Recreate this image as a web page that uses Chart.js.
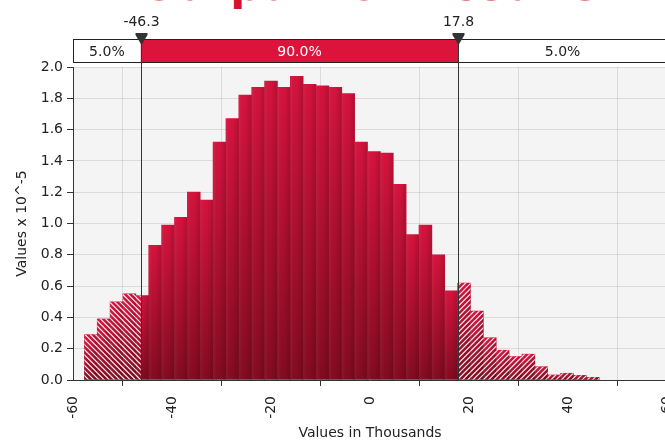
<!DOCTYPE html>
<html><head><meta charset="utf-8">
<script src="https://cdn.jsdelivr.net/npm/chart.js@4.4.1/dist/chart.umd.min.js"></script>
<style>
html,body{margin:0;padding:0;overflow:hidden;background:#fff;width:665px;height:440px}
#wrap{position:relative;width:700px;height:440px}
#title{position:absolute;left:0;top:-37.5px;width:740px;text-align:center;font:bold 44px "DejaVu Sans",sans-serif;color:#d8112d;white-space:nowrap;line-height:44px}
canvas{position:absolute;left:0;top:0}
</style></head>
<body>
<div id="wrap"><div id="title">Output for Results</div><canvas id="c" width="700" height="440"></canvas></div>
<script>
// ---- data ----
const binStart = -57.7;
const binWidth = 2.6;
const values = [0.29,0.39,0.50,0.55,0.54,0.86,0.99,1.04,1.20,1.15,
                1.52,1.67,1.82,1.87,1.91,1.87,1.94,1.89,1.88,1.87,
                1.83,1.52,1.46,1.45,1.25,0.93,0.99,0.80,0.57,0.62,
                0.44,0.27,0.19,0.15,0.165,0.085,0.032,0.043,0.030,0.017];
const markerValues = [-46.3, 17.8];
const markerLabels = ['-46.3', '17.8'];
const bandLabels = ['5.0%', '90.0%', '5.0%'];
const xTickValues = [-60,-40,-20,0,20,40,60];
const yMin = 0, yMax = 2.0, yStep = 0.2;
const xTitle = 'Values in Thousands';
const yTitle = 'Values x 10^-5';

const points = values.map((v,i)=>({x: binStart + binWidth*(i+0.5), y: v}));
const FONT = '"DejaVu Sans", sans-serif';

const bgPlugin = {
  id:'bg',
  beforeDraw(chart){
    const {ctx, chartArea:a} = chart;
    ctx.save(); ctx.fillStyle='#f4f4f4';
    ctx.fillRect(a.left, a.top, a.right-a.left, a.bottom-a.top);
    ctx.restore();
  }
};

const hatchPlugin = {
  id:'hatch',
  afterDatasetsDraw(chart){
    const {ctx, scales:{x}} = chart;
    const m1 = x.getPixelForValue(markerValues[0]);
    const m2 = x.getPixelForValue(markerValues[1]);
    const meta = chart.getDatasetMeta(0);
    const sp = 5.2;
    meta.data.forEach(bar=>{
      const l = bar.x - bar.width/2, r = bar.x + bar.width/2, t = bar.y, b = bar.base;
      ctx.save();
      const g = ctx.createLinearGradient(l,0,r,0);
      g.addColorStop(0,'rgba(255,255,255,0.06)');
      g.addColorStop(0.5,'rgba(0,0,0,0.0)');
      g.addColorStop(1,'rgba(0,0,0,0.16)');
      ctx.fillStyle = g; ctx.fillRect(l,t,r-l,b-t);
      ctx.restore();
      const H = b - t;
      if (l < m1){
        ctx.save(); ctx.beginPath(); ctx.rect(l,t,Math.min(r,m1)-l,H); ctx.clip();
        ctx.strokeStyle='rgba(255,255,255,0.9)'; ctx.lineWidth=1.2; ctx.beginPath();
        const c0 = Math.floor((l - b)/sp)*sp;
        for (let c=c0; c < r - t + sp; c+=sp){ ctx.moveTo(c + t - 2, t - 2); ctx.lineTo(c + b + 2, b + 2); }
        ctx.stroke(); ctx.restore();
      }
      if (r > m2){
        const ll = Math.max(l,m2);
        ctx.save(); ctx.beginPath(); ctx.rect(ll,t,r-ll,H); ctx.clip();
        ctx.strokeStyle='rgba(255,255,255,0.9)'; ctx.lineWidth=1.2; ctx.beginPath();
        const c0 = Math.floor((ll + t)/sp)*sp;
        for (let c=c0; c < r + b + sp; c+=sp){ ctx.moveTo(c - t + 2, t - 2); ctx.lineTo(c - b - 2, b + 2); }
        ctx.stroke(); ctx.restore();
      }
    });
  }
};

const bandPlugin = {
  id:'band',
  afterDraw(chart){
    const {ctx, chartArea:a, scales:{x}} = chart;
    const m1 = x.getPixelForValue(markerValues[0]);
    const m2 = x.getPixelForValue(markerValues[1]);
    const top = 39.5, h = 23;
    ctx.save();
    ctx.fillStyle='#ffffff'; ctx.fillRect(a.left, top, a.right-a.left, h);
    ctx.fillStyle='#dc143c'; ctx.fillRect(m1, top, m2-m1, h);
    ctx.strokeStyle='#222'; ctx.lineWidth=1; ctx.strokeRect(a.left+0.5, top, a.right-a.left, h);
    ctx.font = '14px ' + FONT; ctx.textAlign='center'; ctx.textBaseline='middle';
    ctx.fillStyle='#222';
    ctx.fillText(bandLabels[0], (a.left+m1)/2, top+h/2+1);
    ctx.fillText(bandLabels[2], (m2+a.right)/2, top+h/2+1);
    ctx.fillStyle='#fff';
    ctx.fillText(bandLabels[1], (m1+m2)/2, top+h/2+1);
    [m1,m2].forEach((m,i)=>{
      const px = Math.round(m)+0.5;
      ctx.strokeStyle='#333'; ctx.lineWidth=1;
      ctx.beginPath(); ctx.moveTo(px, 36); ctx.lineTo(px, a.bottom); ctx.stroke();
      ctx.fillStyle='#333';
      ctx.beginPath(); ctx.moveTo(px-6, 33); ctx.lineTo(px+6, 33); ctx.lineTo(px+6,35); ctx.lineTo(px, 45); ctx.lineTo(px-6,35); ctx.closePath(); ctx.fill();
      ctx.fillStyle='#222'; ctx.font='14px '+FONT; ctx.textAlign='center'; ctx.textBaseline='middle';
      ctx.fillText(markerLabels[i], px, 22);
    });
    ctx.restore();
  }
};

new Chart(document.getElementById('c'), {
  type:'bar',
  data:{ datasets:[{
    data: points,
    barPercentage:1, categoryPercentage:1, borderWidth:0,
    backgroundColor:(c)=>{
      const chart=c.chart; const a=chart.chartArea;
      if(!a || c.type!=='data') return '#c8102e';
      const yT = chart.scales.y.getPixelForValue(c.raw.y);
      const yB = chart.scales.y.getPixelForValue(0);
      const g = chart.ctx.createLinearGradient(0,yT,0,yB);
      g.addColorStop(0,'#d6133d'); g.addColorStop(1,'#820b21');
      return g;
    }
  }]},
  options:{
    responsive:false, animation:false,
    layout:{padding:{top:67,right:33,left:0,bottom:0}},
    plugins:{legend:{display:false}, tooltip:{enabled:false}},
    scales:{
      x:{ type:'linear', min:-60, max:60, offset:false, z:1,
        afterBuildTicks(s){ s.ticks = xTickValues.map(v=>({value:v})); },
        afterFit(s){ s.height = 60; },
        ticks:{ autoSkip:false, minRotation:90, maxRotation:90, color:'#222', font:{family:FONT,size:14}, padding:10 },
        grid:{ color:'rgba(0,0,0,0.1)', tickColor:'#333', tickLength:6 },
        border:{ color:'#333', width:1 },
        title:{ display:true, text:xTitle, color:'#222', font:{family:FONT,size:14,lineHeight:1}, padding:{top:0,bottom:0} }
      },
      y:{ min:yMin, max:yMax, z:1,
        afterFit(s){ s.width = 73; },
        ticks:{ stepSize:yStep, color:'#222', font:{family:FONT,size:14}, padding:4, callback:(v)=>Number(v).toFixed(1) },
        grid:{ color:'rgba(0,0,0,0.1)', tickColor:'#333', tickLength:6 },
        border:{ color:'#333', width:1 },
        title:{ display:true, text:yTitle, color:'#222', font:{family:FONT,size:14,lineHeight:1}, padding:{top:15,bottom:0} }
      }
    }
  },
  plugins:[bgPlugin, hatchPlugin, bandPlugin]
});
</script>
</body></html>
